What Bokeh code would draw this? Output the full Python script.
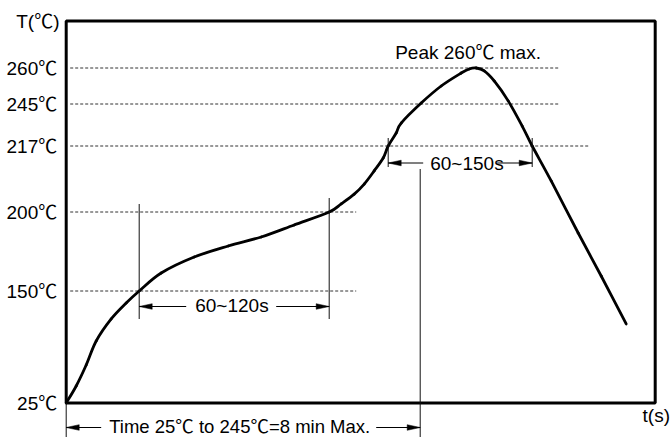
import numpy as np
from bokeh.plotting import figure
from bokeh.models import Range1d
from bokeh.core.properties import value
from bokeh.embed import file_html
from bokeh.resources import INLINE

# ---------------- data ----------------
TIME_S = [0, 10, 20, 30, 45, 60, 73, 95, 128, 162, 195, 228, 263, 275, 288, 298,
          308, 317, 322, 330, 335, 355, 375, 395, 403, 410, 418, 428, 442, 456,
          466, 485, 512, 535, 560]
TEMP_C = [25, 44.0, 67.4, 94.2, 118.8, 136.6, 150, 161.4, 171.5, 178.5, 184.2,
          191.8, 200, 202.1, 204.6, 207.2, 210.6, 213.9, 217, 225.7, 232.3, 245.4,
          252.5, 257.9, 259.6, 260, 258.8, 254.6, 246.3, 230.3, 217, 208.0, 186.7,
          159.5, 113.2]

TICK_TEMPS = [25, 150, 200, 217, 245, 260]
TICK_LABELS = ["25℃", "150℃", "200℃", "217℃", "245℃", "260℃"]

SOAK_TIMES = [73, 263]      # 150℃ -> 200℃  (60~120s)
REFLOW_TIMES = [322, 466]   # above 217℃     (60~150s)
RAMP_END_TIME = 354         # 25℃ -> 245℃

SOAK_LABEL = "60~120s"
REFLOW_LABEL = "60~150s"
PEAK_LABEL = "Peak 260℃ max."
TOTAL_LABEL = "Time 25℃ to 245℃=8 min Max."
Y_TITLE = "T(℃)"
X_TITLE = "t(s)"

# ---------------- layout (schematic, non-linear temperature axis) ----------------
TICK_LEVELS = [0, 112, 191, 257, 299, 335]   # drawn height of each tick temperature


def ty(t):
    return np.interp(np.asarray(t, dtype=float), TICK_TEMPS, TICK_LEVELS)


X0, X1 = -65.7, 605.3
Y0, Y1 = -34.5, 402.5
BOX_R, BOX_T = 589, 382
GUIDE_END = [290, 290, 290, 523, 492, 492]   # dashed guide line lengths, per tick
FONT = value("Liberation Sans, Noto Sans CJK SC")
FS = "19px"

p = figure(width=671, height=437, x_range=Range1d(X0, X1), y_range=Range1d(Y0, Y1),
           x_axis_location=None, y_axis_location=None, toolbar_location=None,
           output_backend="svg", title=None, min_border=0)
p.outline_line_color = None
p.grid.grid_line_color = None
p.background_fill_color = "white"
p.border_fill_color = "white"

lev = ty(TICK_TEMPS)

# dashed guide lines (skip 25℃, which is the time axis)
p.segment(x0=[4] * 5, y0=lev[1:], x1=GUIDE_END[1:], y1=lev[1:],
          line_color="#333333", line_width=1, line_dash="3 2")

# frame box
p.quad(left=[0], right=[BOX_R], bottom=[0], top=[BOX_T], fill_color=None,
       line_color="black", line_width=3)

# profile curve: smooth (Catmull-Rom) bezier segments through the data points
px = np.asarray(TIME_S, dtype=float)
py = ty(TEMP_C)
n = len(px)
x0s, y0s, x1s, y1s, cx0, cy0, cx1, cy1 = ([] for _ in range(8))
for i in range(n - 1):
    ia, ib = max(i - 1, 0), min(i + 2, n - 1)
    x0s.append(px[i]); y0s.append(py[i])
    x1s.append(px[i + 1]); y1s.append(py[i + 1])
    cx0.append(px[i] + (px[i + 1] - px[ia]) / 6)
    cy0.append(py[i] + (py[i + 1] - py[ia]) / 6)
    cx1.append(px[i + 1] - (px[ib] - px[i]) / 6)
    cy1.append(py[i + 1] - (py[ib] - py[i]) / 6)
p.bezier(x0=x0s, y0=y0s, x1=x1s, y1=y1s, cx0=cx0, cy0=cy0, cx1=cx1, cy1=cy1,
         line_color="black", line_width=2.8, line_cap="round")

# marker lines
soak_y = ty(150) - 15.5
reflow_y = ty(217) - 17
total_y = -24.5
vx0 = [SOAK_TIMES[0], SOAK_TIMES[1], REFLOW_TIMES[0], REFLOW_TIMES[1], RAMP_END_TIME, 0]
vy0 = [ty(150) + 87, ty(200) + 14, ty(217) + 8, ty(217) + 8, ty(217) - 23, 0]
vy1 = [soak_y - 12.5, soak_y - 12.5, reflow_y - 4, reflow_y - 4, Y0, Y0]
p.segment(x0=vx0, y0=vy0, x1=vx0, y1=vy1, line_color="#111111", line_width=1)

# arrows: (tail, tip, y)
arrows = [
    (SOAK_TIMES[0] + 47, SOAK_TIMES[0], soak_y),
    (SOAK_TIMES[1] - 53, SOAK_TIMES[1], soak_y),
    (REFLOW_TIMES[0] + 35, REFLOW_TIMES[0], reflow_y),
    (REFLOW_TIMES[1] - 35, REFLOW_TIMES[1], reflow_y),
    (35, 0, total_y),
    (RAMP_END_TIME - 44, RAMP_END_TIME, total_y),
]
HL, HW = 13, 2.8
p.segment(x0=[a[0] for a in arrows], y0=[a[2] for a in arrows],
          x1=[a[1] for a in arrows], y1=[a[2] for a in arrows],
          line_color="black", line_width=1)
hx, hy = [], []
for tail, tip, y in arrows:
    d = 1 if tip > tail else -1
    hx.append([tip, tip - d * HL, tip - d * HL])
    hy.append([y, y + HW, y - HW])
p.patches(hx, hy, fill_color="black", line_color="black", line_width=0.5)

# tick labels
p.text(x=[-9] * len(TICK_LABELS), y=lev, text=TICK_LABELS, text_font=FONT,
       text_font_size=FS, text_align="right", text_baseline="middle", text_color="black")
# axis titles and annotations
p.text(x=[-6.7], y=[381.5], text=[Y_TITLE], text_font=FONT, text_font_size=FS,
       text_align="right", text_baseline="middle", text_color="black")
p.text(x=[X1 - 1.5], y=[-12.5], text=[X_TITLE], text_font=FONT, text_font_size=FS,
       text_align="right", text_baseline="middle", text_color="black")
p.text(x=[329], y=[ty(260) + 15.5], text=[PEAK_LABEL], text_font=FONT, text_font_size=FS,
       text_align="left", text_baseline="middle", text_color="black")
p.text(x=[364], y=[reflow_y], text=[REFLOW_LABEL], text_font=FONT, text_font_size=FS,
       text_align="left", text_baseline="middle", text_color="black")
p.text(x=[129], y=[soak_y + 1.5], text=[SOAK_LABEL], text_font=FONT, text_font_size=FS,
       text_align="left", text_baseline="middle", text_color="black")
p.text(x=[43], y=[total_y + 1.5], text=[TOTAL_LABEL], text_font=FONT, text_font_size="18.5px",
       text_align="left", text_baseline="middle", text_color="black")

open("out.html", "w").write(file_html(p, INLINE))
